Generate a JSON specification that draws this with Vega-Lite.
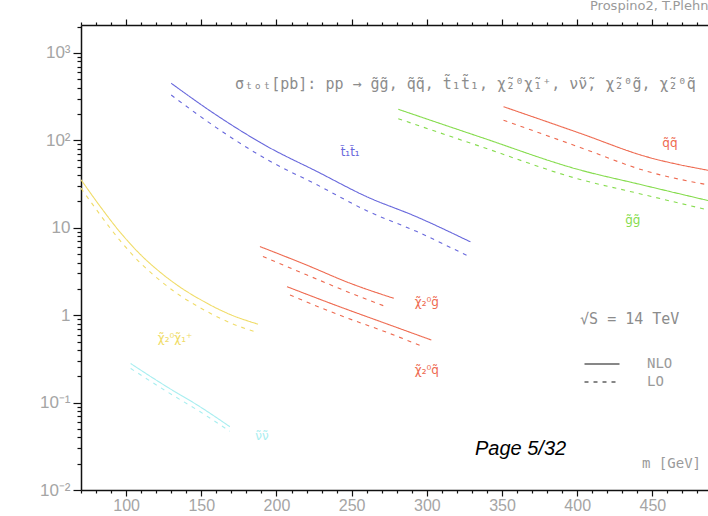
{
  "$schema": "https://vega.github.io/schema/vega-lite/v6.json",
  "width": 627,
  "height": 465,
  "autosize": {"type": "none"},
  "padding": {"left": 81, "top": 25, "right": 0, "bottom": 26},
  "background": "white",
  "config": {
    "view": {"stroke": null},
    "axis": {"grid": false, "labelFlush": false, "domainColor": "#111111", "domainWidth": 1.5}
  },
  "title": {"text": "Prospino2, T.Plehn", "anchor": "start", "frame": "group", "dx": 509, "offset": 5, "fontSize": 13, "fontWeight": "normal", "color": "#9a9a9a", "font": "DejaVu Sans"},
  "datasets": {
    "curves": [
      {"proc": "n2c1", "order": "NLO", "m": 70, "sigma": 35.5},
      {"proc": "n2c1", "order": "NLO", "m": 82.6, "sigma": 17.7},
      {"proc": "n2c1", "order": "NLO", "m": 95.9, "sigma": 8.95},
      {"proc": "n2c1", "order": "NLO", "m": 109.2, "sigma": 5.01},
      {"proc": "n2c1", "order": "NLO", "m": 122.5, "sigma": 3.12},
      {"proc": "n2c1", "order": "NLO", "m": 135.8, "sigma": 2.1},
      {"proc": "n2c1", "order": "NLO", "m": 149.1, "sigma": 1.52},
      {"proc": "n2c1", "order": "NLO", "m": 169.1, "sigma": 1.02},
      {"proc": "n2c1", "order": "NLO", "m": 187.7, "sigma": 0.79},
      {"proc": "n2c1", "order": "LO", "m": 70, "sigma": 28.4},
      {"proc": "n2c1", "order": "LO", "m": 82.6, "sigma": 14.2},
      {"proc": "n2c1", "order": "LO", "m": 95.9, "sigma": 7.16},
      {"proc": "n2c1", "order": "LO", "m": 109.2, "sigma": 4.0},
      {"proc": "n2c1", "order": "LO", "m": 122.5, "sigma": 2.5},
      {"proc": "n2c1", "order": "LO", "m": 135.8, "sigma": 1.68},
      {"proc": "n2c1", "order": "LO", "m": 149.1, "sigma": 1.22},
      {"proc": "n2c1", "order": "LO", "m": 169.1, "sigma": 0.82},
      {"proc": "n2c1", "order": "LO", "m": 187.7, "sigma": 0.63},
      {"proc": "nn", "order": "NLO", "m": 103, "sigma": 0.28},
      {"proc": "nn", "order": "NLO", "m": 127, "sigma": 0.152},
      {"proc": "nn", "order": "NLO", "m": 149, "sigma": 0.09},
      {"proc": "nn", "order": "NLO", "m": 169, "sigma": 0.053},
      {"proc": "nn", "order": "LO", "m": 103, "sigma": 0.246},
      {"proc": "nn", "order": "LO", "m": 127, "sigma": 0.134},
      {"proc": "nn", "order": "LO", "m": 149, "sigma": 0.079},
      {"proc": "nn", "order": "LO", "m": 169, "sigma": 0.047},
      {"proc": "tt", "order": "NLO", "m": 130, "sigma": 450},
      {"proc": "tt", "order": "NLO", "m": 160, "sigma": 195},
      {"proc": "tt", "order": "NLO", "m": 194, "sigma": 85},
      {"proc": "tt", "order": "NLO", "m": 227, "sigma": 44},
      {"proc": "tt", "order": "NLO", "m": 260, "sigma": 22.7},
      {"proc": "tt", "order": "NLO", "m": 293, "sigma": 13.4},
      {"proc": "tt", "order": "NLO", "m": 329, "sigma": 6.9},
      {"proc": "tt", "order": "LO", "m": 130, "sigma": 330},
      {"proc": "tt", "order": "LO", "m": 160, "sigma": 140},
      {"proc": "tt", "order": "LO", "m": 194, "sigma": 60},
      {"proc": "tt", "order": "LO", "m": 227, "sigma": 31},
      {"proc": "tt", "order": "LO", "m": 260, "sigma": 15.7},
      {"proc": "tt", "order": "LO", "m": 293, "sigma": 9.1},
      {"proc": "tt", "order": "LO", "m": 329, "sigma": 4.6},
      {"proc": "n2g", "order": "NLO", "m": 189, "sigma": 6.1},
      {"proc": "n2g", "order": "NLO", "m": 220, "sigma": 3.75},
      {"proc": "n2g", "order": "NLO", "m": 249, "sigma": 2.32},
      {"proc": "n2g", "order": "NLO", "m": 278, "sigma": 1.56},
      {"proc": "n2g", "order": "LO", "m": 191, "sigma": 4.7},
      {"proc": "n2g", "order": "LO", "m": 220, "sigma": 2.9},
      {"proc": "n2g", "order": "LO", "m": 249, "sigma": 1.8},
      {"proc": "n2g", "order": "LO", "m": 273, "sigma": 1.25},
      {"proc": "n2q", "order": "NLO", "m": 207, "sigma": 2.12},
      {"proc": "n2q", "order": "NLO", "m": 242, "sigma": 1.25},
      {"proc": "n2q", "order": "NLO", "m": 273, "sigma": 0.8},
      {"proc": "n2q", "order": "NLO", "m": 303, "sigma": 0.52},
      {"proc": "n2q", "order": "LO", "m": 209, "sigma": 1.7},
      {"proc": "n2q", "order": "LO", "m": 242, "sigma": 1.0},
      {"proc": "n2q", "order": "LO", "m": 273, "sigma": 0.64},
      {"proc": "n2q", "order": "LO", "m": 297, "sigma": 0.44},
      {"proc": "gg", "order": "NLO", "m": 281, "sigma": 227},
      {"proc": "gg", "order": "NLO", "m": 335, "sigma": 110},
      {"proc": "gg", "order": "NLO", "m": 402, "sigma": 45.8},
      {"proc": "gg", "order": "NLO", "m": 440, "sigma": 31.9},
      {"proc": "gg", "order": "NLO", "m": 487, "sigma": 20.5},
      {"proc": "gg", "order": "LO", "m": 281, "sigma": 177},
      {"proc": "gg", "order": "LO", "m": 335, "sigma": 86},
      {"proc": "gg", "order": "LO", "m": 402, "sigma": 35.7},
      {"proc": "gg", "order": "LO", "m": 440, "sigma": 24.9},
      {"proc": "gg", "order": "LO", "m": 487, "sigma": 16},
      {"proc": "qq", "order": "NLO", "m": 351, "sigma": 243},
      {"proc": "qq", "order": "NLO", "m": 402, "sigma": 120.5},
      {"proc": "qq", "order": "NLO", "m": 446, "sigma": 65.1},
      {"proc": "qq", "order": "NLO", "m": 487, "sigma": 45.5},
      {"proc": "qq", "order": "LO", "m": 351, "sigma": 170},
      {"proc": "qq", "order": "LO", "m": 402, "sigma": 83},
      {"proc": "qq", "order": "LO", "m": 446, "sigma": 44.5},
      {"proc": "qq", "order": "LO", "m": 487, "sigma": 31}
    ],
    "labels": [
      {"proc": "n2c1", "text": "χ̃₂⁰χ̃₁⁺", "m": 132.6, "sigma": 0.55},
      {"proc": "nn", "text": "ν̃ν̃", "m": 190.4, "sigma": 0.041},
      {"proc": "tt", "text": "t̃₁t̃₁", "m": 249, "sigma": 73.6},
      {"proc": "n2g", "text": "χ̃₂⁰g̃", "m": 300, "sigma": 1.42},
      {"proc": "n2q", "text": "χ̃₂⁰q̃", "m": 300, "sigma": 0.236},
      {"proc": "gg", "text": "g̃g̃", "m": 437, "sigma": 12.3},
      {"proc": "qq", "text": "q̃q̃", "m": 461.7, "sigma": 93}
    ],
    "heading": [
      {"text": "σₜₒₜ[pb]:  pp → g̃g̃, q̃q̃, t̃₁t̃₁, χ̃₂⁰χ̃₁⁺, ν̃ν̃, χ̃₂⁰g̃, χ̃₂⁰q̃", "m": 172.5, "sigma": 441}
    ],
    "energy": [
      {"text": "√S = 14 TeV", "m": 401.9, "sigma": 0.906}
    ],
    "unit": [
      {"text": "m [GeV]", "m": 443.1, "sigma": 0.0198}
    ],
    "page": [
      {"text": "Page 5/32", "m": 332, "sigma": 0.0294}
    ]
  },
  "resolve": {"axis": {"x": "independent", "y": "independent"}},
  "layer": [
    {
      "data": {"name": "curves"},
      "mark": {"type": "line", "strokeWidth": 1.1, "interpolate": "monotone"},
      "encoding": {
        "x": {"field": "m", "type": "quantitative",
          "scale": {"domain": [70, 487], "nice": false, "zero": false},
          "axis": {"title": null, "orient": "bottom", "values": [100, 150, 200, 250, 300, 350, 400, 450], "tickSize": 6, "tickColor": "#111111", "tickWidth": 1.2, "labelPadding": 1, "domain": false, "labelFont": "Liberation Sans", "labelFontSize": 16, "labelColor": "#a5a5a5"}},
        "y": {"field": "sigma", "type": "quantitative",
          "scale": {"type": "log", "domain": [0.01, 2090], "nice": false},
          "axis": {"title": null, "orient": "left", "values": [0.01, 0.1, 1, 10, 100, 1000], "tickSize": 8, "tickColor": "#111111", "tickWidth": 1.2, "labelPadding": 3, "domain": false, "labelFont": "Liberation Sans", "labelFontSize": 17, "labelColor": "#a5a5a5",
            "labelExpr": "datum.value >= 999 ? '10³' : datum.value >= 99 ? '10²' : datum.value >= 9 ? '10' : datum.value >= 0.9 ? '1' : datum.value >= 0.09 ? '10⁻¹' : '10⁻²'"}},
        "color": {"field": "proc", "type": "nominal",
          "scale": {"domain": ["qq", "gg", "tt", "n2c1", "nn", "n2g", "n2q"], "range": ["#ee6a50", "#86dc4e", "#6868dc", "#f0dc68", "#a8eef0", "#ee6a50", "#ee6a50"]},
          "legend": null},
        "strokeDash": {"field": "order", "type": "nominal",
          "scale": {"domain": ["NLO", "LO"], "range": [[1, 0], [4, 5]]},
          "legend": {"title": null, "orient": "none", "legendX": 514, "legendY": 332, "padding": 0, "rowPadding": 4, "symbolType": "M-3.5,0H3.5", "symbolSize": 100, "symbolStrokeColor": "#111", "symbolStrokeWidth": 1.2, "labelColor": "#9a9a9a", "labelFontSize": 14, "labelFont": "DejaVu Sans Mono", "labelOffset": 38}}
      }
    },
    {
      "data": {"name": "labels"},
      "mark": {"type": "text", "fontSize": 12, "font": "DejaVu Sans"},
      "encoding": {
        "x": {"field": "m", "type": "quantitative",
          "axis": {"title": null, "orient": "bottom", "values": [70, 80, 90, 110, 120, 130, 140, 160, 170, 180, 190, 210, 220, 230, 240, 260, 270, 280, 290, 310, 320, 330, 340, 360, 370, 380, 390, 410, 420, 430, 440, 460, 470, 480], "tickSize": 3, "tickColor": "#111111", "tickWidth": 1.2, "labels": false, "domain": false}},
        "y": {"field": "sigma", "type": "quantitative", "scale": {"type": "log"},
          "axis": {"title": null, "orient": "left", "values": [0.02, 0.03, 0.04, 0.05, 0.06, 0.07, 0.08, 0.09, 0.2, 0.3, 0.4, 0.5, 0.6, 0.7, 0.8, 0.9, 2, 3, 4, 5, 6, 7, 8, 9, 20, 30, 40, 50, 60, 70, 80, 90, 200, 300, 400, 500, 600, 700, 800, 900, 2000], "tickSize": 4, "tickColor": "#111111", "tickWidth": 1.2, "labels": false, "domain": false}},
        "color": {"field": "proc", "type": "nominal", "legend": null},
        "text": {"field": "text"}
      }
    },
    {
      "data": {"name": "heading"},
      "mark": {"type": "text", "align": "left", "baseline": "middle", "fontSize": 15, "font": "DejaVu Sans Mono", "color": "#8c8c8c"},
      "encoding": {
        "x": {"field": "m", "type": "quantitative",
          "axis": {"title": null, "orient": "top", "values": [100, 150, 200, 250, 300, 350, 400, 450], "tickSize": 6, "tickColor": "#111111", "tickWidth": 1.2, "labels": false, "domain": false}},
        "y": {"field": "sigma", "type": "quantitative", "scale": {"type": "log"},
          "axis": {"title": null, "orient": "left", "ticks": false, "labels": false, "domain": true}},
        "text": {"field": "text"}
      }
    },
    {
      "data": {"name": "page"},
      "mark": {"type": "text", "align": "left", "baseline": "middle", "fontSize": 20, "fontStyle": "italic", "font": "Liberation Sans", "color": "#000"},
      "encoding": {
        "x": {"field": "m", "type": "quantitative",
          "axis": {"title": null, "orient": "top", "values": [70, 80, 90, 110, 120, 130, 140, 160, 170, 180, 190, 210, 220, 230, 240, 260, 270, 280, 290, 310, 320, 330, 340, 360, 370, 380, 390, 410, 420, 430, 440, 460, 470, 480], "tickSize": 3, "tickColor": "#111111", "tickWidth": 1.2, "labels": false, "domain": false}},
        "y": {"field": "sigma", "type": "quantitative", "scale": {"type": "log"}, "axis": null},
        "text": {"field": "text"}
      }
    },
    {
      "data": {"name": "energy"},
      "mark": {"type": "text", "align": "left", "baseline": "middle", "fontSize": 15, "font": "DejaVu Sans Mono", "color": "#8c8c8c"},
      "encoding": {
        "x": {"field": "m", "type": "quantitative",
          "axis": {"title": null, "orient": "bottom", "ticks": false, "labels": false, "domain": true}},
        "y": {"field": "sigma", "type": "quantitative", "scale": {"type": "log"}, "axis": null},
        "text": {"field": "text"}
      }
    },
    {
      "data": {"name": "unit"},
      "mark": {"type": "text", "align": "left", "baseline": "middle", "fontSize": 14, "font": "DejaVu Sans Mono", "color": "#9a9a9a"},
      "encoding": {
        "x": {"field": "m", "type": "quantitative",
          "axis": {"title": null, "orient": "top", "ticks": false, "labels": false, "domain": true}},
        "y": {"field": "sigma", "type": "quantitative", "scale": {"type": "log"}, "axis": null},
        "text": {"field": "text"}
      }
    }
  ]
}
